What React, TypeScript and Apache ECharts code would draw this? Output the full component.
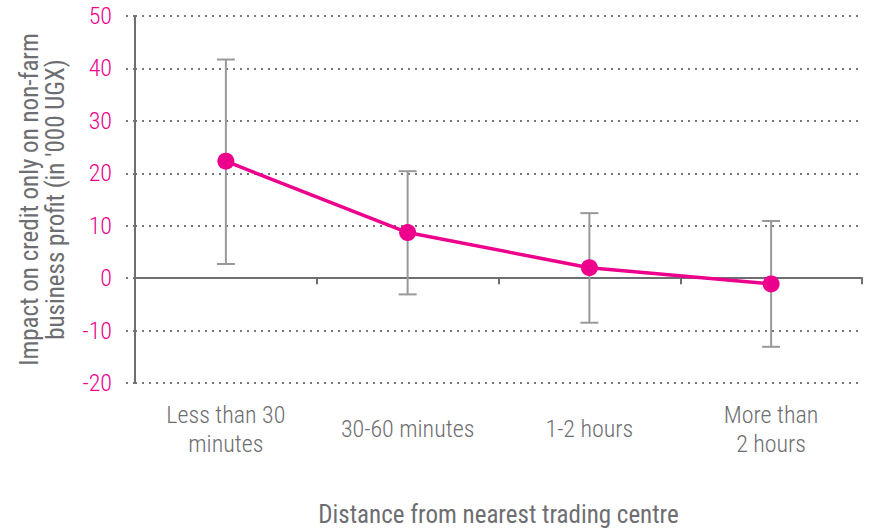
import React, { useEffect, useRef } from "react";
import * as echarts from "echarts";

const categories = ["Less than 30\nminutes", "30-60 minutes", "1-2 hours", "More than\n2 hours"];
const impact = [22.3, 8.7, 2.0, -1.1];
const lowerBound = [2.7, -3.1, -8.5, -13.1];
const upperBound = [41.7, 20.4, 12.4, 10.9];

const MAGENTA = "#EC008C";
const GRAY = "#6D6E71";
const FONT = "'Roboto Condensed', 'DejaVu Sans Condensed', sans-serif";

export default function App() {
  const ref = useRef<HTMLDivElement>(null);
  useEffect(() => {
    if (!ref.current) return;
    const chart = echarts.init(ref.current, null, { renderer: "svg" });
    const errData = categories.map((_, i) => [i, lowerBound[i], upperBound[i]]);
    chart.setOption({
      animation: false,
      grid: { left: 135, right: 12, top: 16, bottom: 146, outerBoundsMode: "none" },
      xAxis: [
        {
          type: "category",
          data: categories,
          boundaryGap: true,
          axisLine: { onZero: true, lineStyle: { color: GRAY, width: 2 } },
          axisTick: { show: true, length: 6, lineStyle: { color: GRAY, width: 2 } },
          axisLabel: { show: false },
          splitLine: { show: false },
        },
        {
          type: "category",
          data: categories,
          position: "bottom",
          boundaryGap: true,
          axisLine: { show: false, onZero: false },
          axisTick: { show: false },
          axisLabel: {
            show: true,
            interval: 0,
            margin: 46,
            verticalAlign: "middle",
            color: GRAY,
            fontSize: 24,
            fontWeight: 300,
            lineHeight: 29,
            fontFamily: FONT,
          },
          name: "Distance from nearest trading centre",
          nameLocation: "middle",
          nameGap: 119,
          nameTextStyle: { color: GRAY, fontSize: 25, fontFamily: FONT, fontWeight: 400 },
        },
      ],
      yAxis: {
        type: "value",
        min: -20,
        max: 50,
        interval: 10,
        axisLine: { show: true, onZero: false, lineStyle: { color: GRAY, width: 2 } },
        axisTick: { show: true, length: 9, lineStyle: { color: "#777", width: 2, type: [2, 5] } },
        axisLabel: { color: MAGENTA, fontSize: 24, fontWeight: 300, margin: 23, fontFamily: FONT },
        splitLine: { show: true, lineStyle: { color: "#777", width: 2, type: [2, 5] } },
        name: "Impact on credit only on non-farm\nbusiness profit (in '000 UGX)",
        nameLocation: "middle",
        nameGap: 67,
        nameTextStyle: { color: GRAY, fontSize: 25, lineHeight: 26, fontFamily: FONT, fontWeight: 400 },
      },
      series: [
        {
          type: "custom",
          xAxisIndex: 0,
          data: errData,
          z: 1,
          renderItem: (params: any, api: any) => {
            const x = api.value(0);
            const lo = api.coord([x, api.value(1)]);
            const hi = api.coord([x, api.value(2)]);
            const hw = 9;
            const style = { stroke: "#999999", lineWidth: 2 };
            return {
              type: "group",
              children: [
                { type: "line", shape: { x1: lo[0], y1: lo[1], x2: hi[0], y2: hi[1] }, style },
                { type: "line", shape: { x1: hi[0] - hw, y1: hi[1], x2: hi[0] + hw, y2: hi[1] }, style },
                { type: "line", shape: { x1: lo[0] - hw, y1: lo[1], x2: lo[0] + hw, y2: lo[1] }, style },
              ],
            };
          },
        },
        {
          type: "line",
          xAxisIndex: 0,
          data: impact,
          z: 3,
          symbol: "circle",
          symbolSize: 17,
          lineStyle: { color: MAGENTA, width: 3.5 },
          itemStyle: { color: MAGENTA },
        },
      ],
    });
    return () => chart.dispose();
  }, []);
  return <div ref={ref} style={{ width: 874, height: 529, position: "absolute", left: 0, top: 0 }} />;
}
